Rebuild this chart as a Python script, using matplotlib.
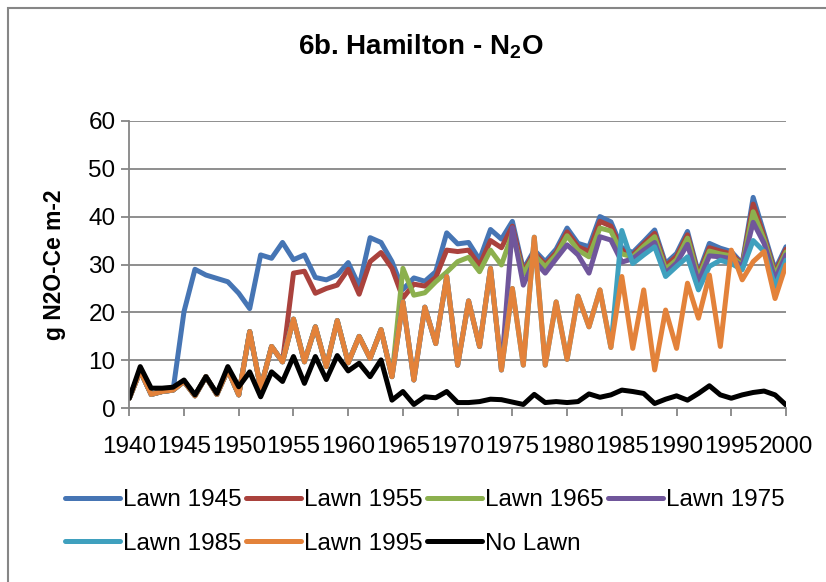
import matplotlib
matplotlib.use("Agg")
import matplotlib.pyplot as plt
from matplotlib.patches import Rectangle

plt.rcParams['font.family'] = ['Liberation Sans', 'DejaVu Sans']
plt.rcParams['mathtext.fontset'] = 'custom'
plt.rcParams['mathtext.bf'] = 'Liberation Sans:bold'
plt.rcParams['mathtext.rm'] = 'Liberation Sans'

years = list(range(1940, 2001))

# shared pre-lawn curve, 1940-1994
pre_lawn = [2.1, 7.8, 2.9, 3.5, 3.8, 5.6, 2.6, 6.6, 2.9, 8.0,
            2.8, 16.0, 4.2, 12.9, 9.7, 18.6, 9.7, 17.0, 8.7, 18.3,
            9.5, 15.0, 10.4, 16.4, 6.6, 22.2, 5.9, 21.1, 13.5, 27.5,
            9.0, 22.4, 12.9, 29.2, 8.0, 25.0, 9.0, 35.7, 9.0, 22.2,
            10.2, 23.4, 17.0, 24.7, 12.7, 27.5, 12.5, 24.7, 8.0, 20.5,
            12.5, 26.1, 18.8, 27.8, 12.9]

# values from the year the lawn is established onwards
lawn_1945 = [20.2, 29.0, 27.8, 27.1, 26.4, 24.0, 20.8, 32.0, 31.3, 34.6,
             31.0, 32.0, 27.3, 26.8, 27.8, 30.4, 25.5, 35.6, 34.6, 30.6,
             24.8, 27.2, 26.5, 28.5, 36.6, 34.3, 34.6, 31.0, 37.3, 35.3,
             39.0, 29.0, 33.0, 30.6, 33.2, 37.6, 34.4, 33.7, 40.0, 38.9,
             33.5, 32.5, 34.8, 37.2, 30.2, 32.3, 36.9, 28.2, 34.4, 33.4,
             32.7, 30.2, 44.0, 36.5, 28.9, 33.7]
lawn_1955 = [28.2, 28.6, 24.0, 25.0, 25.7, 29.0, 23.8, 30.6, 32.5, 29.2,
             23.0, 25.9, 25.5, 27.3, 33.0, 32.7, 33.0, 29.8, 35.0, 33.5,
             38.0, 28.5, 32.5, 30.0, 32.5, 36.8, 33.7, 32.7, 39.0, 38.0,
             33.0, 32.0, 34.3, 36.5, 29.7, 31.7, 36.2, 27.8, 33.5, 32.8,
             32.2, 30.0, 42.6, 35.8, 28.3, 33.2]
lawn_1965 = [29.2, 23.6, 24.1, 26.4, 28.4, 30.6, 31.5, 28.5, 33.0, 29.9,
             36.5, 28.0, 32.0, 29.5, 32.0, 36.0, 33.0, 31.6, 37.6, 37.0,
             32.2, 31.6, 33.8, 35.8, 29.0, 31.0, 35.5, 27.3, 32.8, 32.2,
             31.8, 29.8, 41.0, 35.2, 27.8, 32.6]
lawn_1975 = [37.7, 25.7, 30.8, 28.2, 31.2, 34.1, 32.0, 28.2, 35.8, 35.1,
             30.5, 31.2, 33.0, 34.6, 28.2, 30.3, 34.2, 26.3, 31.8, 31.6,
             31.2, 29.6, 38.8, 34.4, 26.9, 32.0]
lawn_1985 = [37.1, 30.2, 32.0, 33.7, 27.5, 29.6, 31.6, 24.7, 29.6, 30.9,
             30.2, 28.9, 35.0, 32.7, 25.4, 30.9]
lawn_1995 = [33.0, 26.8, 30.6, 32.7, 22.9, 29.9]

no_lawn = [2.1, 8.7, 4.2, 4.2, 4.4, 5.9, 2.8, 6.6, 3.1, 8.7,
           4.5, 7.6, 2.4, 7.6, 5.6, 10.8, 5.2, 10.8, 6.0, 11.0,
           7.8, 9.4, 6.6, 10.1, 1.7, 3.5, 0.8, 2.4, 2.2, 3.5,
           1.2, 1.2, 1.4, 1.9, 1.8, 1.3, 0.8, 2.9, 1.2, 1.4,
           1.2, 1.4, 3.0, 2.3, 2.8, 3.8, 3.5, 3.1, 1.0, 1.9,
           2.6, 1.7, 3.1, 4.7, 2.8, 2.1, 2.8, 3.3, 3.6, 2.8, 0.7]

lawn_starts = [1945, 1955, 1965, 1975, 1985, 1995]
lawn_values = [lawn_1945, lawn_1955, lawn_1965, lawn_1975, lawn_1985, lawn_1995]
labels = ['Lawn 1945', 'Lawn 1955', 'Lawn 1965', 'Lawn 1975',
          'Lawn 1985', 'Lawn 1995', 'No Lawn']
colors = ['#4675b4', '#aa423d', '#8cb04e', '#70569b', '#3fa0be', '#e3823a', '#000000']

fig = plt.figure(figsize=(8.26, 5.82), dpi=100)
ax = fig.add_axes([129.3 / 826, 1 - 408.3 / 582, (786 - 129.3) / 826, (408.3 - 120.7) / 582])

handles = []
for i, (start, vals) in enumerate(zip(lawn_starts, lawn_values)):
    series = pre_lawn[:start - 1940] + vals
    h, = ax.plot(years, series, color=colors[i], lw=3.6,
                 solid_joinstyle='round', solid_capstyle='round', label=labels[i])
    handles.append(h)
h, = ax.plot(years, no_lawn, color=colors[6], lw=3.6,
             solid_joinstyle='round', solid_capstyle='round', label=labels[6])
handles.append(h)

grid_c = '#868686'
ax.set_xlim(1940, 2000)
ax.set_ylim(0, 60)
ax.set_yticks(range(0, 61, 10))
ax.set_xticks(range(1940, 2001, 5))
ax.yaxis.grid(True, color=grid_c, lw=1.3)
ax.set_axisbelow(True)
for side in ['top', 'right']:
    ax.spines[side].set_visible(False)
for side in ['left', 'bottom']:
    ax.spines[side].set_color(grid_c)
    ax.spines[side].set_linewidth(1.3)
ax.tick_params(axis='both', colors=grid_c, width=1.3, length=6, labelcolor='black',
               labelsize=17.5)
ax.tick_params(axis='y', pad=4)
ax.tick_params(axis='x', pad=14)

ax.set_ylabel('g N2O-Ce m-2', fontsize=16.5, fontweight='bold')
ax.yaxis.set_label_coords(-0.097, 0.5)

fig.text(421 / 826, 1 - 47 / 582, r'6b. Hamilton - N$_\mathbf{2}$O',
         ha='center', va='center', fontsize=20, fontweight='bold')

# legend in two rows, filled row by row
order = [0, 4, 1, 5, 2, 6, 3]
fig.legend([handles[k] for k in order], [labels[k] for k in order],
           ncol=4, loc='center left', bbox_to_anchor=(65 / 826, 1 - 522 / 582),
           frameon=False, fontsize=17.5, handlelength=2.25, handletextpad=0.12,
           columnspacing=0.2, labelspacing=0.9, borderpad=0, borderaxespad=0)

# chart area border
fig.add_artist(Rectangle((8 / 826, -0.1), 2, 1.1 - 8 / 582, transform=fig.transFigure,
                         fill=False, edgecolor=grid_c, lw=1.5, clip_on=False))

fig.savefig('out.png', dpi=100)
